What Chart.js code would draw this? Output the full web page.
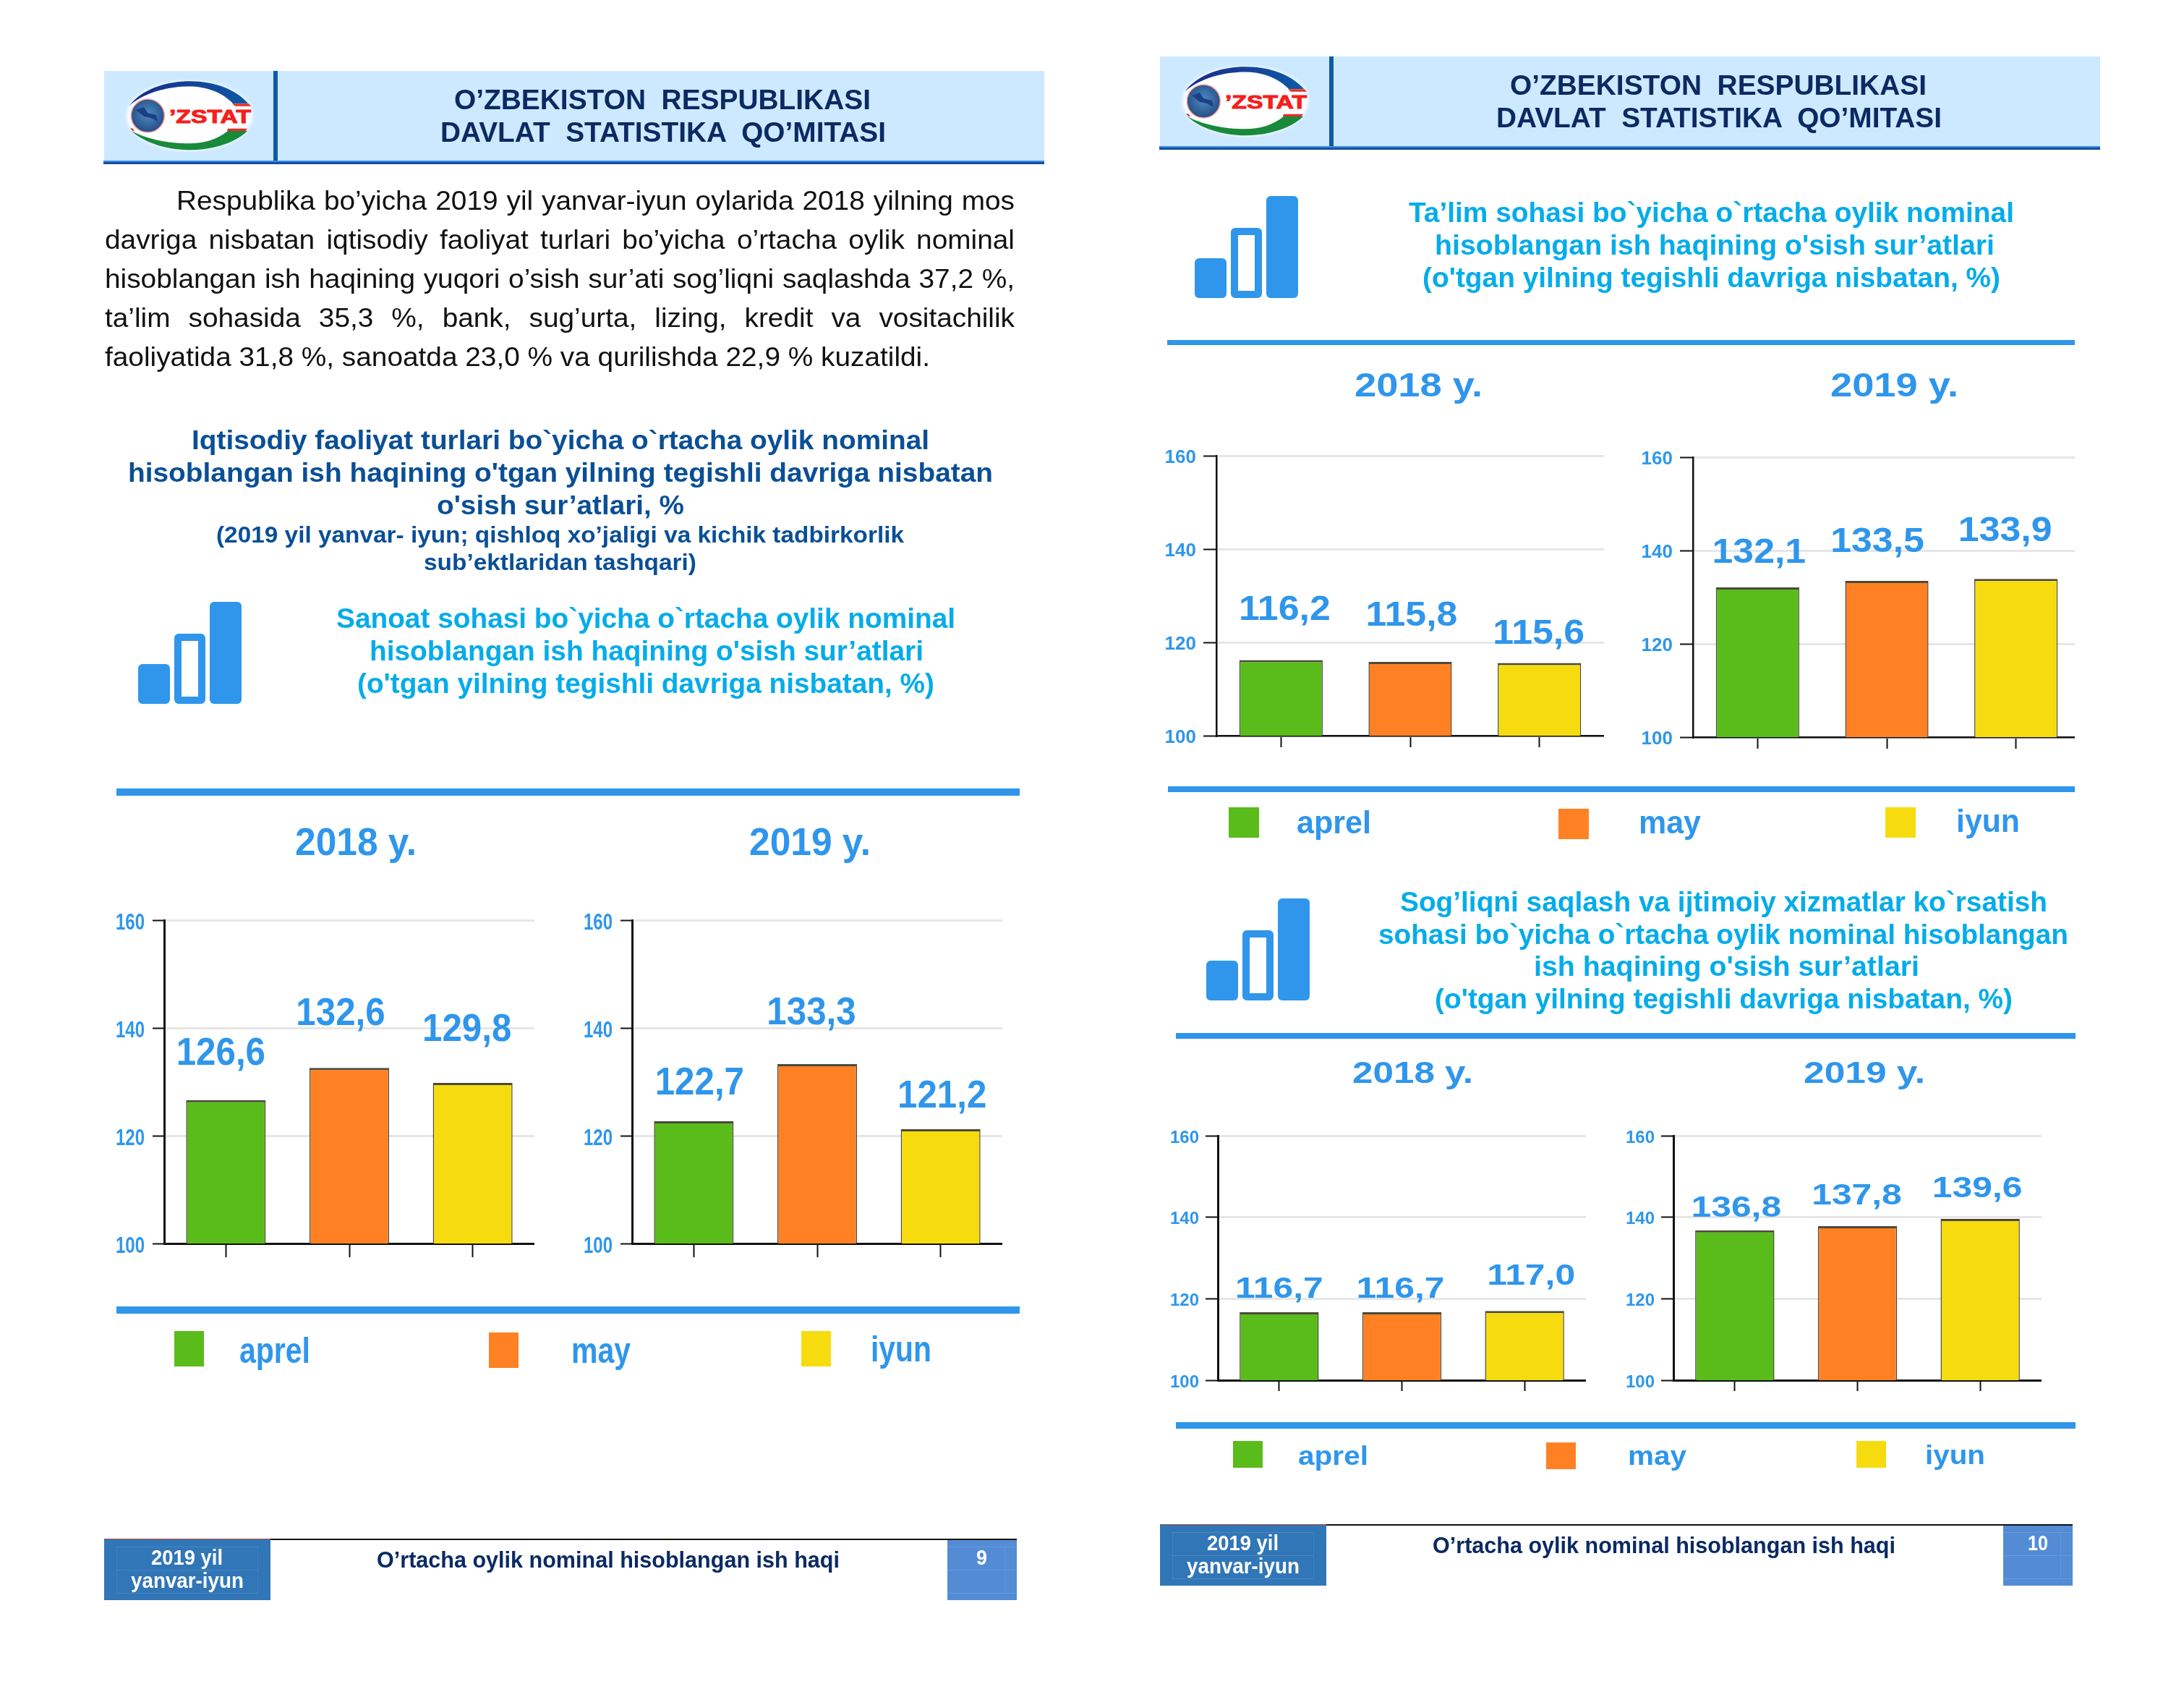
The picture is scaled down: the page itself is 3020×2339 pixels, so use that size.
<!DOCTYPE html>
<html>
<head>
<meta charset="utf-8">
<script src="https://cdn.jsdelivr.net/npm/chart.js@4"></script>
<style>
    html, body { margin: 0; padding: 0; background: #fff; }
    #page { position: relative; width: 3020px; height: 2339px; overflow: hidden; background: #fff; }
    #page div, #page span, #page svg { position: absolute; }
    #page span { white-space: pre; line-height: 1; transform-origin: 0 0; font-family: "Liberation Sans", Arial, sans-serif; }
    .wrap { overflow: hidden; }
</style>
</head>
<body>
<div id="page"></div>
<svg width="0" height="0" style="position:absolute">
    <defs>
        <linearGradient id="arcTop" x1="0" x2="1"><stop offset="0" stop-color="#1b2a86"/><stop offset="1" stop-color="#0c5aa6"/></linearGradient>
        <radialGradient id="globe" cx="0.5" cy="0.45" r="0.6"><stop offset="0" stop-color="#4a8cc4"/><stop offset="1" stop-color="#25467f"/></radialGradient>
        <filter id="soft" x="-10%" y="-10%" width="120%" height="120%"><feGaussianBlur stdDeviation="2.5"/></filter>
    </defs>
</svg>
<script>
const months = ['aprel', 'may', 'iyun']
const monthColors = ['#5abc1a', '#ff8124', '#f6dc0f']
const yTicks = [100, 120, 140, 160]

const sanoat2018 = [126.6, 132.6, 129.8]
const sanoat2019 = [122.7, 133.3, 121.2]
const talim2018 = [116.2, 115.8, 115.6]
const talim2019 = [132.1, 133.5, 133.9]
const soglik2018 = [116.7, 116.7, 117.0]
const soglik2019 = [136.8, 137.8, 139.6]

const headerLines = ['O’ZBEKISTON  RESPUBLIKASI', 'DAVLAT  STATISTIKA  QO’MITASI']
const bodyLines = [
    'Respublika bo’yicha 2019 yil yanvar-iyun oylarida 2018 yilning mos',
    'davriga nisbatan iqtisodiy faoliyat turlari bo’yicha o’rtacha oylik nominal',
    'hisoblangan ish haqining yuqori o’sish sur’ati sog’liqni saqlashda 37,2 %,',
    'ta’lim sohasida 35,3 %, bank, sug’urta, lizing, kredit va vositachilik',
    'faoliyatida 31,8 %, sanoatda 23,0 % va qurilishda 22,9 % kuzatildi.'
]
const leadLines = [
    'Iqtisodiy faoliyat turlari bo`yicha o`rtacha oylik nominal',
    'hisoblangan ish haqining o\'tgan yilning tegishli davriga nisbatan',
    'o\'sish sur’atlari, %'
]
const noteLines = [
    '(2019 yil yanvar- iyun; qishloq xo’jaligi va kichik tadbirkorlik',
    'sub’ektlaridan tashqari)'
]
const sanoatTitle = [
    'Sanoat sohasi bo`yicha o`rtacha oylik nominal',
    'hisoblangan ish haqining o\'sish sur’atlari',
    '(o\'tgan yilning tegishli davriga nisbatan, %)'
]
const talimTitle = [
    'Ta’lim sohasi bo`yicha o`rtacha oylik nominal',
    'hisoblangan ish haqining o\'sish sur’atlari',
    '(o\'tgan yilning tegishli davriga nisbatan, %)'
]
const soglikTitle = [
    'Sog’liqni saqlash va ijtimoiy xizmatlar ko`rsatish',
    'sohasi bo`yicha o`rtacha oylik nominal hisoblangan',
    'ish haqining o\'sish sur’atlari',
    '(o\'tgan yilning tegishli davriga nisbatan, %)'
]
const footerTitle = 'O’rtacha oylik nominal hisoblangan ish haqi'
const footerPeriod = ['2019 yil', 'yanvar-iyun']

const BLUE = '#2f96ec'
const CYAN = '#05ace9'
const NAVY = '#0b2a63'
const DEEP = '#0a4f96'

const page = document.getElementById('page')

function box(x, y, w, h, background) {
    const el = document.createElement('div')
    el.style.cssText = `left:${x}px;top:${y}px;width:${w}px;height:${h}px;background:${background}`
    page.appendChild(el)
    return el
}

// text sits on a baseline and gets squeezed to the x range
function text(str, x0, x1, baseline, size, color, bold = true) {
    const el = document.createElement('span')
    el.textContent = str
    el.style.fontSize = size + 'px'
    el.style.fontWeight = bold ? '700' : '400'
    el.style.color = color
    el.style.left = x0 + 'px'
    el.style.top = (baseline - size * 0.8465) + 'px'
    page.appendChild(el)
    const natural = el.getBoundingClientRect().width
    el.style.transform = `scaleX(${(x1 - x0) / natural})`
    return { el, natural }
}

// same stretch as the unjustified last line, the rest of the width goes to the word gaps
function justified(str, x0, x1, baseline, size, color, stretch) {
    const { el, natural } = text(str, x0, x1, baseline, size, color, false)
    const gaps = str.split(' ').length - 1
    el.style.wordSpacing = (((x1 - x0) / stretch - natural) / gaps) + 'px'
    el.style.transform = `scaleX(${stretch})`
}

function logo(x, y) {
    const holder = document.createElement('div')
    holder.style.cssText = `left:${x}px;top:${y}px;width:180px;height:100px`
    holder.innerHTML = `<svg width="180" height="100" viewBox="0 0 180 100">
        <ellipse cx="90" cy="50" rx="87" ry="48" fill="#fff" filter="url(#soft)"/>
        <path d="M7,36 C25,12 60,2.3 90,2.3 C125,2.3 155,14 171,33 L150,33 C135,17 112,9.5 90,9.5 C60,9.5 28,18 7,36Z" fill="url(#arcTop)"/>
        <path d="M149,33.3 L171.7,33.3 L175,36.7 L153,36.7Z" fill="#ee2b24"/>
        <path d="M10,71 C28,88 60,97.3 90,97.3 C125,97.3 155,86 170,71 L143,71 C128,83 110,88.3 90,88.3 C60,88.3 30,82 10,71Z" fill="#188a3a"/>
        <path d="M143.3,67.7 L170,67.7 L167.7,71 L141.7,71Z" fill="#ee2b24"/>
        <path d="M8.3,67.3 L11,67.3 L14,70.7 L11,70.7Z" fill="#ee2b24"/>
        <circle cx="32.3" cy="50" r="23" fill="url(#globe)" stroke="#f3a3a0" stroke-width="1.6"/>
        <path d="M16,42 L27,38 L32,46 L44,49 L46,58 L37,53 L27,51Z" fill="#1c3f86"/>
        <text x="62" y="59.5" font-family="Liberation Sans" font-weight="700" font-size="26" fill="#f3201c" stroke="#f3201c" stroke-width="1" textLength="113" lengthAdjust="spacingAndGlyphs">’ZSTAT</text>
    </svg>`
    holder.firstChild.style.position = 'static'
    page.appendChild(holder)
}

function header(dx, dy) {
    box(144 + dx, 98 + dy, 1300, 125, '#cde9ff')
    box(378 + dx, 98 + dy, 6, 125, '#0f5aa8')
    box(143 + dx, 222 + dy, 1301, 2, '#3a8ae6')
    box(143 + dx, 224 + dy, 1301, 3, '#14509f')
    logo(172 + dx, 110 + dy)
    text(headerLines[0], 628 + dx, 1204 + dx, 151 + dy, 38, NAVY)
    text(headerLines[1], 609 + dx, 1225 + dx, 196 + dy, 38, NAVY)
}

function footer(dx, dy, num, x0, x1) {
    box(144 + dx, 2127 + dy, 230, 85, '#3176b7')
    box(1310 + dx, 2127 + dy, 96, 85, '#538cd5')
    box(144 + dx, 2127 + dy, 230, 1, '#b5493a')
    box(374 + dx, 2127 + dy, 1032, 2, '#111')
    for (const y of [2138, 2170, 2202]) {
        box(161 + dx, y + dy, 195, 1, 'rgba(255,255,255,.12)')
        box(1310 + dx, y + dy, 96, 1, 'rgba(255,255,255,.12)')
    }
    for (const x of [161, 356, 1389]) {
        box(x + dx, 2138 + dy, 1, 64, 'rgba(255,255,255,.08)')
    }
    text(footerPeriod[0], 209 + dx, 308 + dx, 2164 + dy, 29, '#fff')
    text(footerPeriod[1], 181 + dx, 337 + dx, 2196 + dy, 29, '#fff')
    text(footerTitle, 521 + dx, 1161 + dx, 2167 + dy, 31, NAVY)
    text(num, x0 + dx, x1 + dx, 2164 + dy, 29, '#fff')
}

function icon(x, y) {
    const holder = document.createElement('div')
    holder.style.cssText = `left:${x}px;top:${y}px;width:143px;height:141px`
    holder.innerHTML = `<svg width="143" height="141" viewBox="0 0 143 141">
        <rect x="0" y="86" width="44" height="55" rx="6" fill="${BLUE}"/>
        <path d="M56,44 H87 a6,6 0 0 1 6,6 V135 a6,6 0 0 1 -6,6 H56 a6,6 0 0 1 -6,-6 V50 a6,6 0 0 1 6,-6Z M60,54 V131 H83 V54Z" fill="${BLUE}" fill-rule="evenodd"/>
        <rect x="99" y="0" width="44" height="141" rx="6" fill="${BLUE}"/>
    </svg>`
    holder.firstChild.style.position = 'static'
    page.appendChild(holder)
}

function legend(swatches, swatchW, swatchH, labels, size) {
    months.forEach((name, i) => {
        box(swatches[i][0], swatches[i][1], swatchW, swatchH, monthColors[i])
        text(name, labels[i][0], labels[i][1], labels[i][2], size, BLUE)
    })
}

// the scan is stretched differently per chart, so canvas text goes through a scaled context
function stretchedText(ctx, str, x, y, stretch, size, align) {
    ctx.save()
    ctx.translate(x, y)
    ctx.scale(stretch, 1)
    ctx.font = `700 ${size}px "Liberation Sans"`
    ctx.fillStyle = BLUE
    ctx.textAlign = align
    ctx.textBaseline = 'alphabetic'
    ctx.fillText(str, 0, 0)
    ctx.restore()
}

const valueLabels = {
    id: 'valueLabels',
    afterDatasetsDraw(chart, args, opts) {
        const dataset = chart.data.datasets[0]
        chart.getDatasetMeta(0).data.forEach((bar, i) => {
            const label = dataset.data[i].toFixed(1).replace('.', ',')
            stretchedText(chart.ctx, label, bar.x + opts.shift[i], bar.y - opts.gap[i], opts.stretch, opts.size, 'center')
        })
    }
}

const axisText = {
    id: 'axisText',
    afterDraw(chart, args, opts) {
        const scale = chart.scales.y
        scale.ticks.forEach(tick => {
            const y = scale.getPixelForValue(tick.value) + opts.size * 0.36 + 1
            stretchedText(chart.ctx, String(tick.value), scale.right - opts.inset, y, opts.stretch, opts.size, 'right')
        })
    }
}

const LEFT_PAD = 80
const TOP_PAD = 30
const BOTTOM_PAD = 30

function barChart(values, { x, y, w, h, visibleW = w, tickLen, xTickLen, axisWidth = 3, tickText, labels }) {
    const wrap = document.createElement('div')
    wrap.className = 'wrap'
    const fullW = w + LEFT_PAD
    const fullH = h + TOP_PAD + BOTTOM_PAD
    wrap.style.cssText = `left:${x - LEFT_PAD}px;top:${y - TOP_PAD}px;width:${visibleW + LEFT_PAD}px;height:${fullH}px`
    const canvas = document.createElement('canvas')
    canvas.width = fullW
    canvas.height = fullH
    canvas.style.cssText = `position:absolute;left:0;top:0;width:${fullW}px;height:${fullH}px`
    wrap.appendChild(canvas)
    page.appendChild(wrap)

    return new Chart(canvas, {
        type: 'bar',
        plugins: [valueLabels, axisText],
        data: {
            labels: months,
            datasets: [
                {
                    data: values,
                    backgroundColor: monthColors,
                    borderColor: '#4a4a3c',
                    borderWidth: { top: 3, left: 1.5, right: 1.5, bottom: 0 },
                    barPercentage: 0.645,
                    categoryPercentage: 1
                }
            ]
        },
        options: {
            responsive: false,
            animation: false,
            layout: { padding: { top: TOP_PAD, left: 0, right: 0, bottom: 0 } },
            plugins: {
                legend: { display: false },
                tooltip: { enabled: false },
                valueLabels: labels,
                axisText: tickText
            },
            scales: {
                x: {
                    afterFit(scale) {
                        scale.height = BOTTOM_PAD
                    },
                    grid: {
                        offset: false,
                        drawOnChartArea: false,
                        tickLength: xTickLen,
                        tickColor: '#111',
                        tickWidth: 2
                    },
                    border: { color: '#111', width: axisWidth },
                    ticks: { display: false }
                },
                y: {
                    min: yTicks[0],
                    max: yTicks[yTicks.length - 1],
                    afterFit(scale) {
                        scale.width = LEFT_PAD
                    },
                    afterBuildTicks(scale) {
                        scale.ticks = yTicks.map(value => ({ value }))
                    },
                    grid: {
                        color: '#e6e6e6',
                        lineWidth: 3,
                        tickLength: tickLen,
                        tickColor: '#111',
                        tickWidth: 2
                    },
                    border: { color: '#111', width: axisWidth },
                    ticks: { display: false }
                }
            }
        }
    })
}

// left page
header(0, 0)
const lastLine = text(bodyLines[4], 145, 1286, 506, 36, '#111', false)
const bodyStretch = (1286 - 145) / lastLine.natural
const bodyRanges = [[244, 1403], [145, 1403], [145, 1403], [145, 1403]]
bodyRanges.forEach((range, i) => {
    justified(bodyLines[i], range[0], range[1], 290 + 54 * i, 36, '#111', bodyStretch)
})
text(leadLines[0], 265, 1285, 621, 37, DEEP)
text(leadLines[1], 177, 1373, 666, 37, DEEP)
text(leadLines[2], 604, 946, 711, 37, DEEP)
text(noteLines[0], 299, 1250, 750, 32, DEEP)
text(noteLines[1], 586, 963, 788, 32, DEEP)
icon(191, 832)
text(sanoatTitle[0], 465, 1321, 868, 38, CYAN)
text(sanoatTitle[1], 511, 1277, 913, 38, CYAN)
text(sanoatTitle[2], 494, 1292, 958, 38, CYAN)
box(161, 1090, 1249, 10, BLUE)
text('2018 y.', 408, 576, 1182, 54, BLUE)
text('2019 y.', 1036, 1204, 1182, 54, BLUE)

const leftTicks = { size: 32, stretch: 0.75, inset: 27 }
barChart(sanoat2018, {
    x: 227, y: 1272, w: 512, h: 447, tickLen: 16, xTickLen: 19, tickText: leftTicks,
    labels: { size: 53, stretch: 0.93, shift: [-7, -12, -8], gap: [49, 59, 58] }
})
barChart(sanoat2019, {
    x: 874, y: 1272, w: 512, h: 447, tickLen: 16, xTickLen: 19, tickText: leftTicks,
    labels: { size: 53, stretch: 0.93, shift: [8, -8, 2], gap: [37, 55, 30] }
})
box(161, 1806, 1249, 10, BLUE)
legend([[241, 1840], [676, 1842], [1108, 1840]], 41, 49,
    [[331, 429, 1884], [790, 872, 1884], [1204, 1288, 1882]], 50)
footer(0, 0, '9', 1350, 1365)

// right page
header(1460, -20)
icon(1652, 271)
text(talimTitle[0], 1948, 2785, 307, 38, CYAN)
text(talimTitle[1], 1984, 2758, 352, 38, CYAN)
text(talimTitle[2], 1967, 2766, 397, 38, CYAN)
box(1614, 470, 1255, 7, BLUE)
text('2018 y.', 1873, 2050, 548, 46, BLUE)
text('2019 y.', 2531, 2708, 548, 46, BLUE)

const midTicks = { size: 25, stretch: 1.04, inset: 28 }
barChart(talim2018, {
    x: 1682, y: 630, w: 536, h: 387, tickLen: 18, xTickLen: 16, axisWidth: 2.5, tickText: midTicks,
    labels: { size: 48, stretch: 1.08, shift: [5, 2, -1], gap: [56, 50, 26] }
})
barChart(talim2019, {
    x: 2341, y: 632, w: 536, h: 387, visibleW: 528, tickLen: 18, xTickLen: 16, axisWidth: 2.5, tickText: midTicks,
    labels: { size: 48, stretch: 1.08, shift: [2, -13, -15], gap: [34, 40, 52] }
})
box(1615, 1087, 1254, 8, BLUE)
legend([[1699, 1116], [2155, 1118], [2607, 1116]], 42, 42,
    [[1793, 1896, 1152], [2266, 2352, 1152], [2705, 2793, 1150]], 44)

icon(1668, 1242)
text(soglikTitle[0], 1936, 2831, 1260, 38, CYAN)
text(soglikTitle[1], 1906, 2860, 1305, 38, CYAN)
text(soglikTitle[2], 2121, 2654, 1349, 38, CYAN)
text(soglikTitle[3], 1984, 2783, 1394, 38, CYAN)
box(1626, 1428, 1244, 8, BLUE)
text('2018 y.', 1870, 2037, 1498, 42, BLUE)
text('2019 y.', 2494, 2662, 1498, 42, BLUE)

const lowTicks = { size: 24, stretch: 1, inset: 26 }
barChart(soglik2018, {
    x: 1684, y: 1570, w: 509, h: 338, tickLen: 17, xTickLen: 15, tickText: lowTicks,
    labels: { size: 40.5, stretch: 1.23, shift: [0, -2, 9], gap: [20, 20, 36] }
})
barChart(soglik2019, {
    x: 2314, y: 1570, w: 509, h: 338, tickLen: 17, xTickLen: 15, tickText: lowTicks,
    labels: { size: 40.5, stretch: 1.23, shift: [2, -1, -4], gap: [19, 30, 30] }
})
box(1626, 1966, 1244, 9, BLUE)
legend([[1705, 1992], [2138, 1994], [2567, 1992]], 41, 37,
    [[1795, 1892, 2025], [2251, 2332, 2025], [2662, 2745, 2024]], 36)
footer(1460, -20, '10', 1344, 1372)
</script>
</body>
</html>
